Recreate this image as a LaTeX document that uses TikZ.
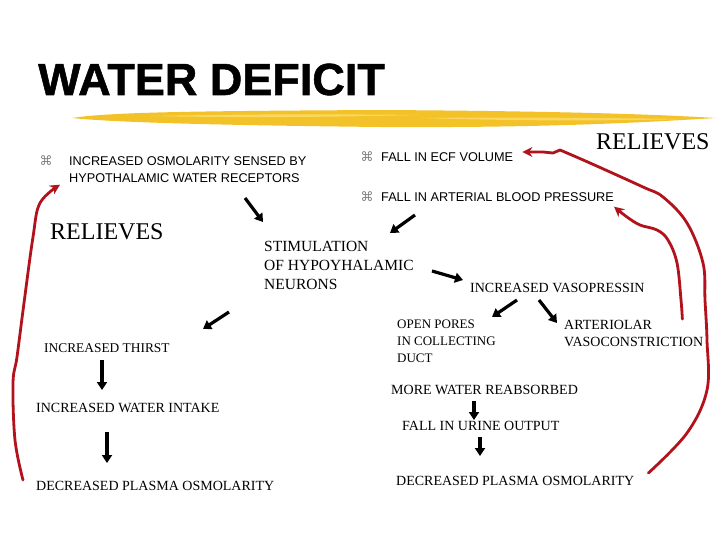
\documentclass[tikz,border=0pt]{standalone}
\usepackage{fontspec}
\usepackage{xcolor}
\usepackage{tikz}
\usetikzlibrary{arrows.meta, positioning, calc}
\setmainfont{Liberation Serif}
\newfontfamily\arialfont{Liberation Sans}
\newfontfamily\titlefont{Liberation Sans Bold}[FakeBold=1.2]
\newfontfamily\symfont{DejaVu Sans}
\definecolor{curvared}{RGB}{178,18,28}
\definecolor{brushgold}{RGB}{242,194,40}
\definecolor{brushlight}{RGB}{250,216,96}

\begin{document}
\begin{tikzpicture}[x=1pt,y=-1pt,
    sanstext/.style={inner sep=0pt,anchor=west,align=left,font=\arialfont\fontsize{12.7}{17}\selectfont},
    seriftext/.style={inner sep=0pt,anchor=west,align=left,font=\fontsize{14}{17}\selectfont},
    bigtext/.style={inner sep=0pt,anchor=west,font=\fontsize{24}{28}\selectfont},
    bulletmark/.style={inner sep=0pt,text=gray,font=\symfont\fontsize{13}{14}\selectfont},
    blkarrow/.style={line width=3.2pt,-{Triangle[length=8pt,width=10pt]}},
    redarrow/.style={draw=curvared,line width=2.8pt,line cap=round,line join=round,-{Stealth[length=10pt,width=10pt]}},
    redline/.style={draw=curvared,line width=2.8pt,line cap=round,line join=round}]
    \useasboundingbox (0,0) rectangle (720,540);

    % Titolo
    \node[inner sep=0pt,anchor=base west,font=\titlefont\fontsize{45}{48}\selectfont] (title) at (38,95) {WATER DEFICIT};
    \fill[brushgold] (72,118) .. controls (110,112) and (200,111) .. (380,110)
        .. controls (550,111) and (650,114) .. (716,118)
        .. controls (650,122) and (550,128) .. (380,127)
        .. controls (200,125) and (110,122) .. (72,118) -- cycle;
    \fill[brushlight] (150,116) .. controls (250,114) and (330,114) .. (420,115)
        .. controls (330,117) and (250,118) .. (150,116) -- cycle;
    \fill[brushlight] (420,118) .. controls (520,117) and (600,118) .. (690,119)
        .. controls (600,121) and (520,121) .. (420,118) -- cycle;

    % Stimoli
    \node[bulletmark] (b1) at (46,161) {⌘};
    \node[sanstext] (recept) at (69,169.5) {INCREASED OSMOLARITY SENSED BY\\HYPOTHALAMIC WATER RECEPTORS};
    \node[bulletmark] (b2) at (367,157) {⌘};
    \node[sanstext] (ecf) at (381,157) {FALL IN ECF VOLUME};
    \node[bulletmark] (b3) at (367,197) {⌘};
    \node[sanstext] (pressure) at (381,197) {FALL IN ARTERIAL BLOOD PRESSURE};

    % Relieves
    \node[bigtext] (relright) at (596,142) {RELIEVES};
    \node[bigtext] (relleft) at (50,232) {RELIEVES};

    % Catena centrale
    \node[seriftext,font=\fontsize{15.5}{19}\selectfont] (stim) at (264,265) {STIMULATION\\OF HYPOYHALAMIC\\NEURONS};
    \node[seriftext] (vaso) at (470,288) {INCREASED VASOPRESSIN};
    \node[seriftext,font=\fontsize{13}{17}\selectfont] (pores) at (397,341) {OPEN PORES\\IN COLLECTING\\DUCT};
    \node[seriftext] (arter) at (564,333.5) {ARTERIOLAR\\VASOCONSTRICTION};
    \node[seriftext] (more) at (391,390) {MORE WATER REABSORBED};
    \node[seriftext] (urine) at (402,426) {FALL IN URINE OUTPUT};
    \node[seriftext] (decr) at (396,481) {DECREASED PLASMA OSMOLARITY};

    % Ramo sete
    \node[seriftext,font=\fontsize{13.4}{17}\selectfont] (thirst) at (44,348) {INCREASED THIRST};
    \node[seriftext] (intake) at (36,408) {INCREASED WATER INTAKE};
    \node[seriftext] (decl) at (36,486) {DECREASED PLASMA OSMOLARITY};

    % Frecce nere
    \coordinate (recept-out) at (245,198);   \coordinate (stim-in1) at (263,222);
    \coordinate (press-out) at (415,215);    \coordinate (stim-in2) at (390,233);
    \coordinate (stim-out1) at (432,271);    \coordinate (vaso-in) at (463,280);
    \coordinate (stim-out2) at (229,312);    \coordinate (thirst-in) at (203,329);
    \coordinate (vaso-out1) at (517,300);    \coordinate (pores-in) at (492,317);
    \coordinate (vaso-out2) at (539,300);    \coordinate (arter-in) at (557,323);
    \coordinate (thirst-out) at (102,360);   \coordinate (intake-in) at (102,390);
    \coordinate (intake-out) at (107,432);   \coordinate (decl-in) at (107,463);
    \coordinate (more-out) at (474,401);     \coordinate (urine-in) at (474,420);
    \coordinate (urine-out) at (480,437);    \coordinate (decr-in) at (480,456);
    \draw[blkarrow] (recept-out) -- (stim-in1);
    \draw[blkarrow] (press-out) -- (stim-in2);
    \draw[blkarrow] (stim-out1) -- (vaso-in);
    \draw[blkarrow] (stim-out2) -- (thirst-in);
    \draw[blkarrow] (vaso-out1) -- (pores-in);
    \draw[blkarrow] (vaso-out2) -- (arter-in);
    \draw[blkarrow] (thirst-out) -- (intake-in);
    \draw[blkarrow] (intake-out) -- (decl-in);
    \draw[blkarrow] (more-out) -- (urine-in);
    \draw[blkarrow] (urine-out) -- (decr-in);

    % Curve rosse
    \coordinate (lstart) at ($(decl.west)+(-13,-6)$);
    \coordinate (lend) at ($(recept.south west)+(-9,2)$);
    \draw[redarrow] plot[smooth,tension=0.6] coordinates {(lstart) (15,440) (13,383) (17,357) (24,303) (33,237) (40,203) (lend)};
    \coordinate (ostart) at ($(decr.east)+(14,-8)$);
    \coordinate (oend) at ($(ecf.east)+(9,-5)$);
    \draw[redline] plot[smooth,tension=0.6] coordinates {(ostart) (687,433) (707,390) (707,340) (705,300) (703,263) (687,223) (663,197) (643,187) (590,163) (560,150)};
    \draw[redarrow] (560,150) -- (553,153) -- (543,152) -- (oend);
    \coordinate (istart) at ($(arter.north east)+(-21,-1)$);
    \coordinate (iend) at ($(pressure.south east)+(0,5)$);
    \draw[redarrow] plot[smooth,tension=0.6] coordinates {(istart) (681,300) (677,263) (668,240) (657,230) (640,225) (627,217) (iend)};
\end{tikzpicture}
\end{document}
